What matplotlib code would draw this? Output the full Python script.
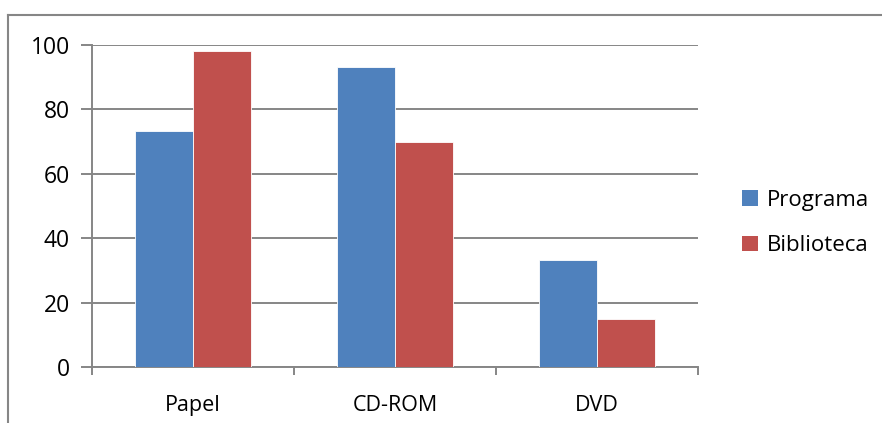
import matplotlib
matplotlib.use("Agg")
import matplotlib.pyplot as plt
from matplotlib.lines import Line2D
from matplotlib.patches import Patch
import numpy as np

categories = ["Papel", "CD-ROM", "DVD"]
programa = [73.3, 93.3, 33.3]
biblioteca = [98.0, 70.0, 15.0]
series_names = ["Programa", "Biblioteca"]
yticks = [0, 20, 40, 60, 80, 100]

blue = "#4F81BD"
red = "#C0504D"
gray = "#868686"

plt.rcParams['font.family'] = ['Open Sans', 'DejaVu Sans']

fig = plt.figure(figsize=(8.82, 4.23), dpi=100)
W, H = 882, 423
ax = fig.add_axes([92 / W, 1 - 367 / H, (698 - 92) / W, (367 - 45) / H])

x = np.arange(len(categories))
bw = 0.285
ax.bar(x - bw / 2, programa, width=bw, color=blue, edgecolor="white", linewidth=0.6, zorder=3)
ax.bar(x + bw / 2, biblioteca, width=bw, color=red, edgecolor="white", linewidth=0.6, zorder=3)

ax.set_xlim(-0.5, len(categories) - 0.5)
ax.set_ylim(0, 100)
ax.set_yticks(yticks)
ax.set_yticklabels([str(v) for v in yticks], fontsize=16.5)
ax.yaxis.grid(True, color=gray, linewidth=1.4, zorder=0)
ax.set_axisbelow(True)

ax.set_xticks(np.arange(-0.5, len(categories), 1.0))
ax.set_xticklabels([])
ax.set_xticks(x, minor=True)
ax.set_xticklabels(categories, minor=True, fontsize=15.5)
ax.tick_params(axis="x", which="minor", length=0, pad=20)
ax.tick_params(axis="x", which="major", length=6, width=1.4, color=gray, direction="out")
ax.tick_params(axis="y", length=8, width=1.4, color=gray, direction="out", pad=8)

for s in ["top", "right"]:
    ax.spines[s].set_visible(False)
for s in ["left", "bottom"]:
    ax.spines[s].set_color(gray)
    ax.spines[s].set_linewidth(1.4)

# outer chart frame
fig.add_artist(Line2D([8 / W, 8 / W], [0, 1 - 15 / H], transform=fig.transFigure, color=gray, linewidth=1.5))
fig.add_artist(Line2D([8 / W, 1], [1 - 15 / H, 1 - 15 / H], transform=fig.transFigure, color=gray, linewidth=1.5))

handles = [Patch(facecolor=blue), Patch(facecolor=red)]
fig.legend(handles, series_names, loc="center left", bbox_to_anchor=(722 / W, 1 - 223 / H),
           frameon=False, fontsize=16, handlelength=0.7, handleheight=0.7, handletextpad=0.4,
           labelspacing=1.1)

fig.savefig("out.png", dpi=100)
